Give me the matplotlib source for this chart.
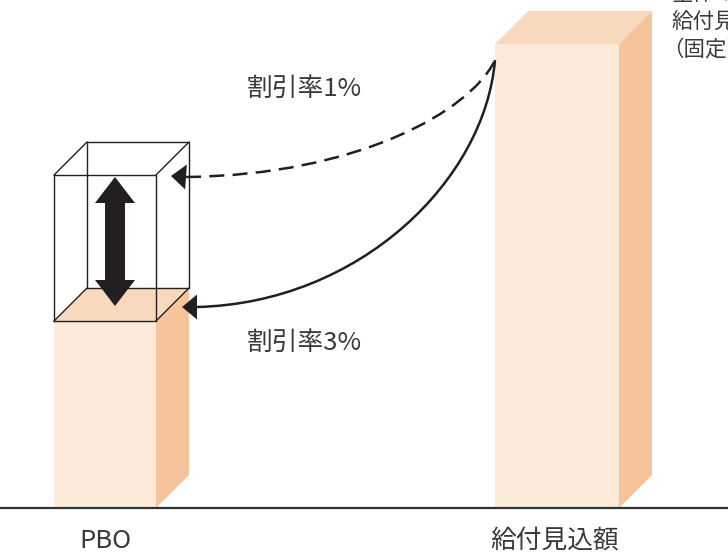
import numpy as np
import matplotlib
matplotlib.use('Agg')
import matplotlib.pyplot as plt
from matplotlib.patches import Polygon, FancyArrow, PathPatch
from matplotlib.path import Path

plt.rcParams['font.family'] = ['Noto Sans CJK JP', 'DejaVu Sans']

#------------------------------------------------------------------------------
# Data (heights above the baseline)
#------------------------------------------------------------------------------
categories = ['PBO', '給付見込額']
bar_values = [187, 464]          # PBO at 3% discount, projected benefits
pbo_1pct = 333                   # PBO at 1% discount (wire box top)
rate_labels = ['割引率1%', '割引率3%']
note_lines = ['全体の', '給付見込額', '（固定）']

#------------------------------------------------------------------------------
# Style
#------------------------------------------------------------------------------
bar_left = [54, 495]
bar_width = [102, 124]
depth = 33
c_front = '#FCEADA'
c_top = '#F9D9BD'
c_side = '#F5C49C'
ink = '#231F20'
txt = '#3A3A3A'

fig = plt.figure(figsize=(7.28, 5.53), dpi=100)
ax = fig.add_axes([0, 0, 1, 1])
ax.set_xlim(0, 728)
ax.set_ylim(-45, 508)
ax.axis('off')


def box3d(ax, x0, w, y0, y1):
    x1 = x0 + w
    front = [(x0, y0), (x1, y0), (x1, y1), (x0, y1)]
    top = [(x0, y1), (x1, y1), (x1 + depth, y1 + depth), (x0 + depth, y1 + depth)]
    side = [(x1, y0), (x1 + depth, y0 + depth), (x1 + depth, y1 + depth), (x1, y1)]
    ax.add_patch(Polygon(front, closed=True, fc=c_front, ec='none'))
    ax.add_patch(Polygon(top, closed=True, fc=c_top, ec='none'))
    ax.add_patch(Polygon(side, closed=True, fc=c_side, ec='none'))


# bars
for x0, w, v in zip(bar_left, bar_width, bar_values):
    box3d(ax, x0, w, 0, v)

# wire box for PBO at 1%
x0, w = bar_left[0], bar_width[0]
y0, y1 = bar_values[0], pbo_1pct
lw = 1.0
ax.plot([x0, x0 + w, x0 + w, x0, x0], [y0, y0, y1, y1, y0], color=ink, lw=lw, zorder=3)
ax.plot([x0 + depth, x0 + w + depth, x0 + w + depth, x0 + depth, x0 + depth],
        [y0 + depth, y0 + depth, y1 + depth, y1 + depth, y0 + depth], color=ink, lw=lw, zorder=3)
for xx in (x0, x0 + w):
    for yy in (y0, y1):
        ax.plot([xx, xx + depth], [yy, yy + depth], color=ink, lw=lw, zorder=3)

# double-headed range arrow (two halves overlapping in the middle)
ax_x = x0 + w / 2 + 10
mid = (y0 + 15 + y1 - 2) / 2
for end, start in ((y1 - 2, mid - 6), (y0 + 15, mid + 6)):
    ax.add_patch(FancyArrow(ax_x, start, 0, end - start, width=20, head_width=40,
                            head_length=26, length_includes_head=True,
                            fc=ink, ec='none', zorder=4))

# baseline
ax.plot([0, 728], [0, 0], color='#333333', lw=1.6, zorder=5)


def curved_arrow(ax, pts, tip, ls):
    codes = [Path.MOVETO, Path.CURVE4, Path.CURVE4, Path.CURVE4]
    ax.add_patch(PathPatch(Path(pts, codes), fc='none', ec=ink, lw=1.8,
                           ls=ls, capstyle='butt', zorder=4))
    base = np.array(pts[-1], float)
    tip = np.array(tip, float)
    d = tip - base
    n = np.array([-d[1], d[0]]) / np.hypot(*d)
    hw = 12.5
    tri = [tip, base + n * hw, base - n * hw]
    ax.add_patch(Polygon(tri, closed=True, fc=ink, ec='none', zorder=4))


# discount 1% (dashed) and 3% (solid)
curved_arrow(ax, [(494, 446), (470, 398), (360, 333), (186, 331)], (171, 332),
             (0, (6, 3.3)))
curved_arrow(ax, [(495, 448), (485, 328), (360, 205), (197, 201)], (182, 201), '-')

# text
ax.text(304, 419, rate_labels[0], fontsize=18.5, color=txt, ha='center', va='center')
ax.text(304, 165, rate_labels[1], fontsize=18.5, color=txt, ha='center', va='center')
ax.text(105, -33, categories[0], fontsize=18.5, color=txt, ha='center', va='center')
ax.text(490, -33, categories[1], fontsize=18.5, color=txt, ha='left', va='center')
note_x = [671, 671, 662]   # full-width bracket sits flush left in the original
for i, line in enumerate(note_lines):
    ax.text(note_x[i], 514 - 28 * i, line, fontsize=15.5, color=txt, ha='left', va='center')

fig.savefig('out.png', dpi=100)
